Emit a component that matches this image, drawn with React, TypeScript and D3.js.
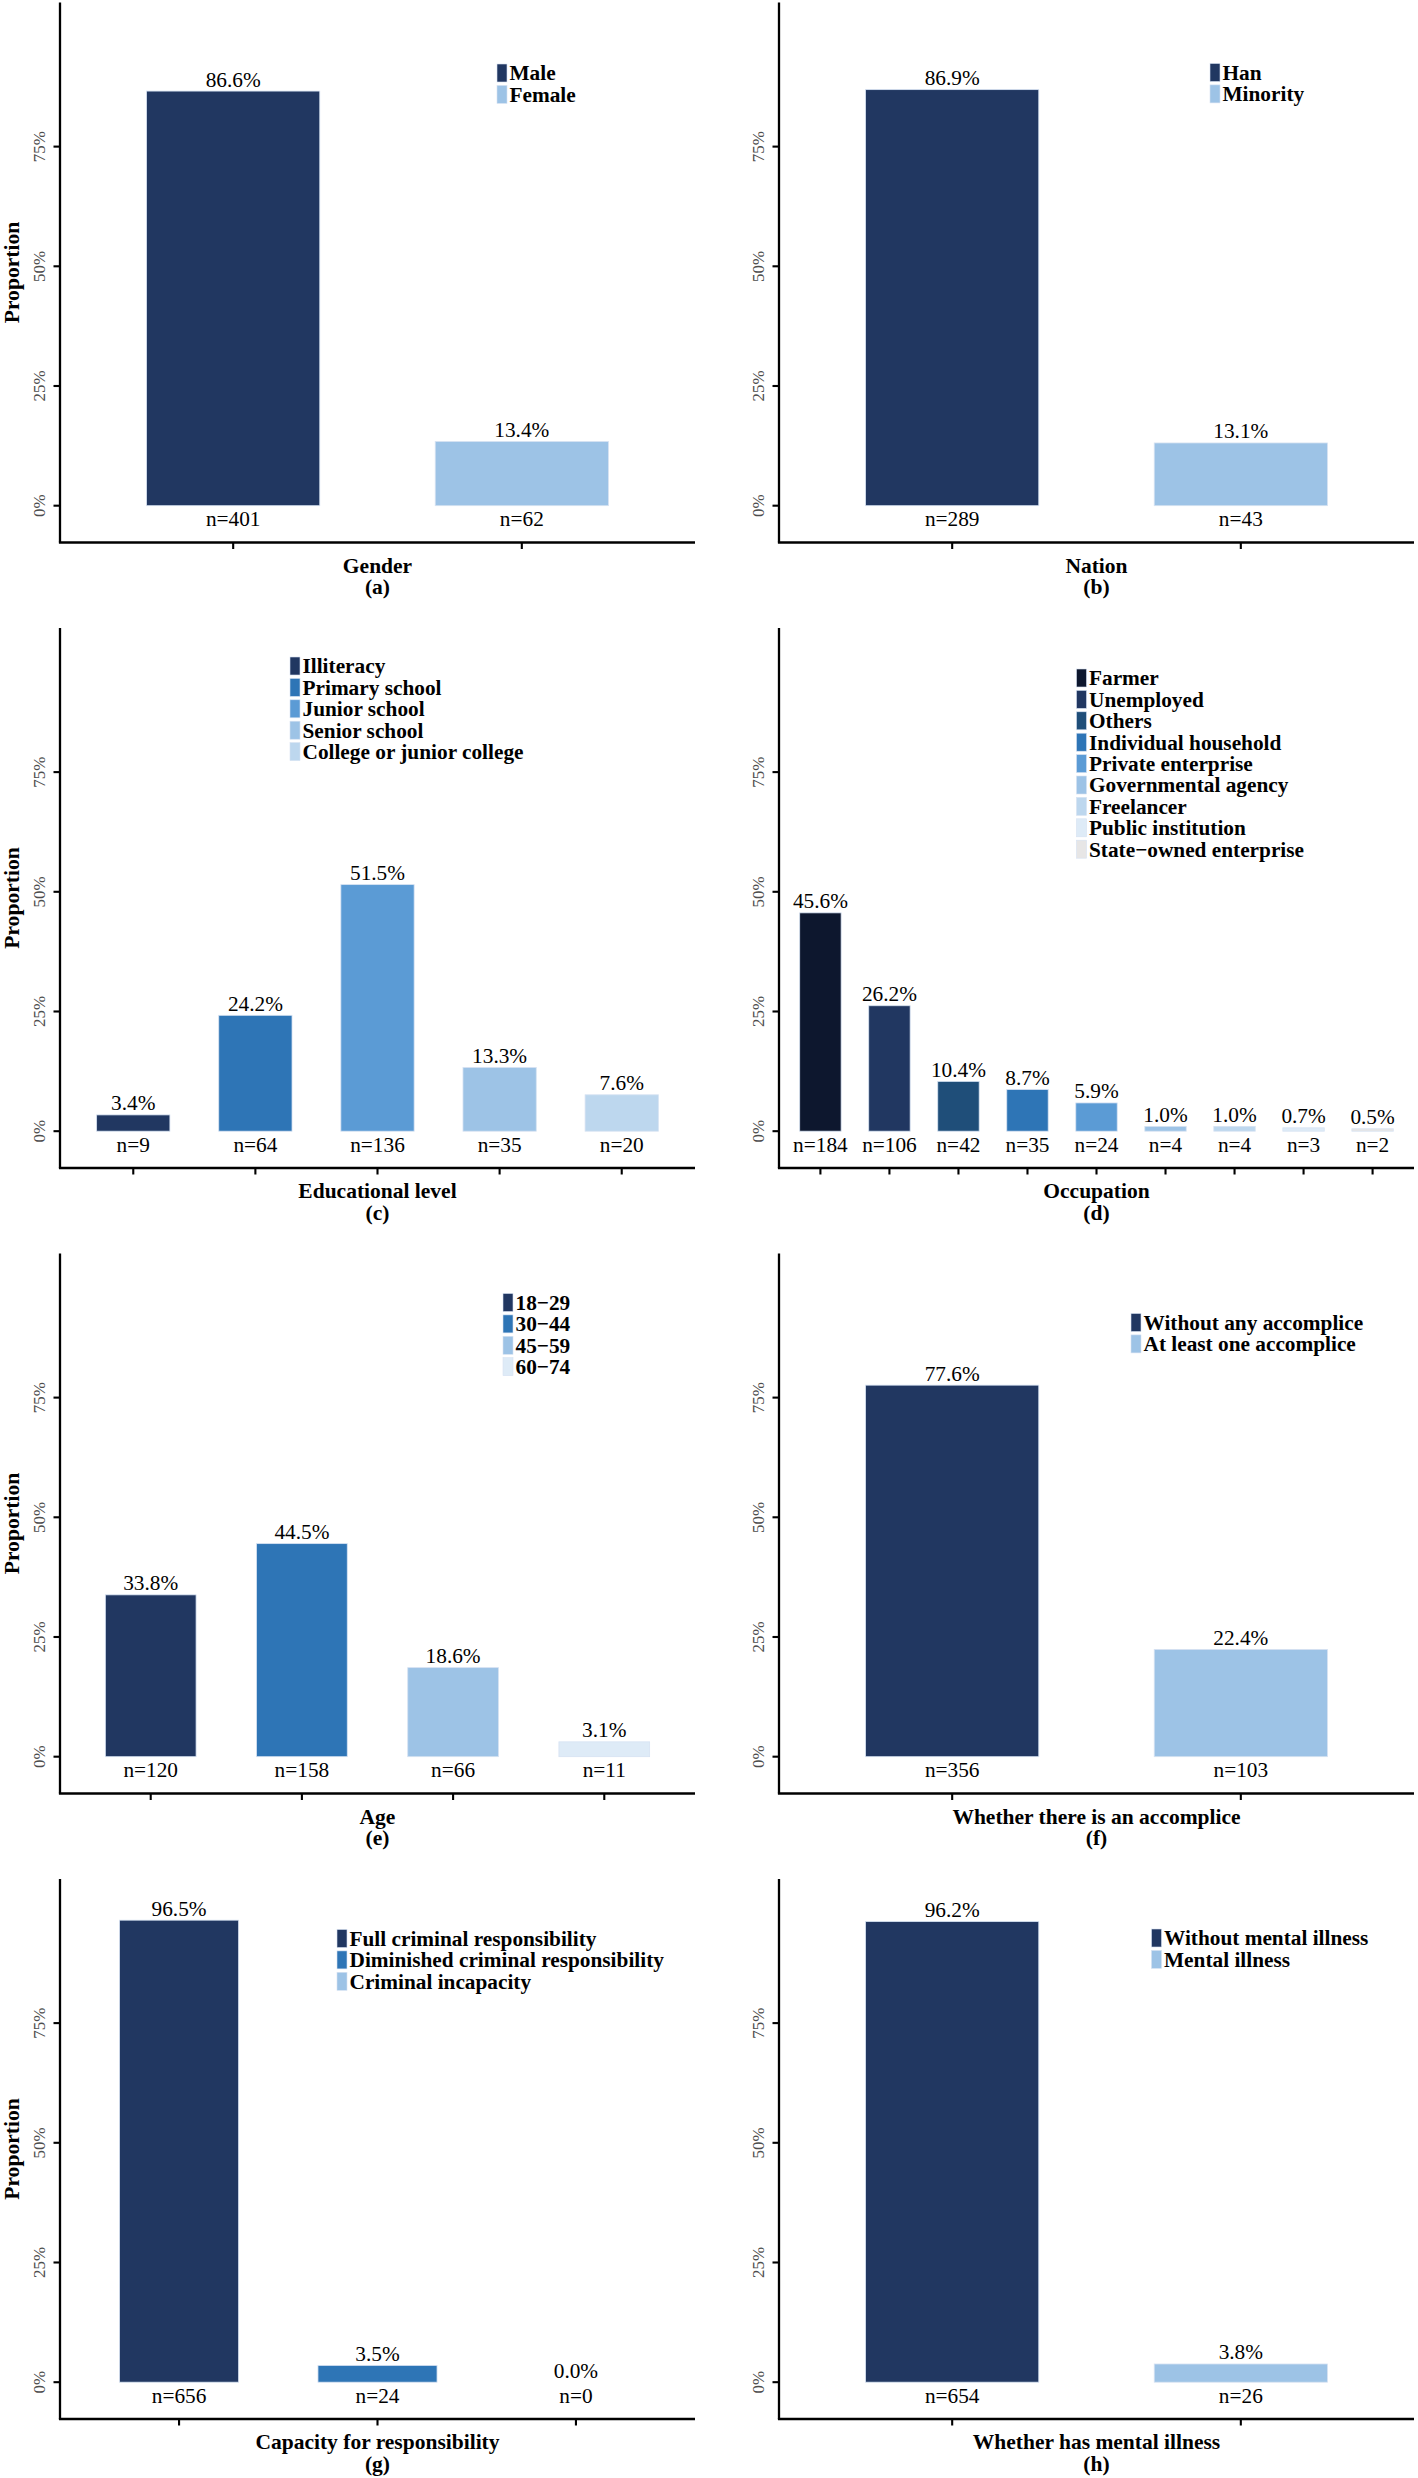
import React from "react";
import * as d3 from "d3";

// ---------- data ----------
const genderCats = ["Male", "Female"];
const genderPct = [86.6, 13.4];
const genderN = [401, 62];

const nationCats = ["Han", "Minority"];
const nationPct = [86.9, 13.1];
const nationN = [289, 43];

const eduCats = ["Illiteracy", "Primary school", "Junior school", "Senior school", "College or junior college"];
const eduPct = [3.4, 24.2, 51.5, 13.3, 7.6];
const eduN = [9, 64, 136, 35, 20];

const occCats = ["Farmer", "Unemployed", "Others", "Individual household", "Private enterprise", "Governmental agency", "Freelancer", "Public institution", "State\u2212owned enterprise"];
const occPct = [45.6, 26.2, 10.4, 8.7, 5.9, 1.0, 1.0, 0.7, 0.5];
const occN = [184, 106, 42, 35, 24, 4, 4, 3, 2];

const ageCats = ["18\u221229", "30\u221244", "45\u221259", "60\u221274"];
const agePct = [33.8, 44.5, 18.6, 3.1];
const ageN = [120, 158, 66, 11];

const accCats = ["Without any accomplice", "At least one accomplice"];
const accPct = [77.6, 22.4];
const accN = [356, 103];

const capCats = ["Full criminal responsibility", "Diminished criminal responsibility", "Criminal incapacity"];
const capPct = [96.5, 3.5, 0.0];
const capN = [656, 24, 0];

const mentalCats = ["Without mental illness", "Mental illness"];
const mentalPct = [96.2, 3.8];
const mentalN = [654, 26];

const yTicks = [0, 0.25, 0.5, 0.75];

// ---------- colours ----------
const cNavy = "#213761";
const cBlue = "#2E75B6";
const cMid = "#5B9BD5";
const cLight = "#9DC3E6";
const cPale = "#BDD7EE";
const cPaler = "#DEEBF7";

const genderColors = [cNavy, cLight];
const nationColors = [cNavy, cLight];
const eduColors = [cNavy, cBlue, cMid, cLight, cPale];
const occColors = ["#0D172E", cNavy, "#1F4E79", cBlue, cMid, cLight, cPale, cPaler, "#E7E6E6"];
const ageColors = [cNavy, cBlue, cLight, cPaler];
const accColors = [cNavy, cLight];
const capColors = [cNavy, cBlue, cLight];
const mentalColors = [cNavy, cLight];

// ---------- layout ----------
const FONT = "'Liberation Serif', 'Times New Roman', Times, serif";
const W = 1418;
const H = 2478;
const PW = 635;
const PH = 540;
const colX = [60, 779];
const rowY = [2.5, 628, 1253.5, 1879];

type Panel = {
  cats: string[];
  pct: number[];
  n: number[];
  colors: string[];
  title: string;
  caption: string;
  col: number;
  row: number;
  legend: [number, number]; // legend top-left relative to panel origin
};

const panels: Panel[] = [
  { cats: genderCats, pct: genderPct, n: genderN, colors: genderColors, title: "Gender", caption: "(a)", col: 0, row: 0, legend: [437, 61.5] },
  { cats: nationCats, pct: nationPct, n: nationN, colors: nationColors, title: "Nation", caption: "(b)", col: 1, row: 0, legend: [431, 61] },
  { cats: eduCats, pct: eduPct, n: eduN, colors: eduColors, title: "Educational level", caption: "(c)", col: 0, row: 1, legend: [230, 29] },
  { cats: occCats, pct: occPct, n: occN, colors: occColors, title: "Occupation", caption: "(d)", col: 1, row: 1, legend: [297.5, 41] },
  { cats: ageCats, pct: agePct, n: ageN, colors: ageColors, title: "Age", caption: "(e)", col: 0, row: 2, legend: [443, 40] },
  { cats: accCats, pct: accPct, n: accN, colors: accColors, title: "Whether there is an accomplice", caption: "(f)", col: 1, row: 2, legend: [352, 60] },
  { cats: capCats, pct: capPct, n: capN, colors: capColors, title: "Capacity for responsibility", caption: "(g)", col: 0, row: 3, legend: [277, 50.5] },
  { cats: mentalCats, pct: mentalPct, n: mentalN, colors: mentalColors, title: "Whether has mental illness", caption: "(h)", col: 1, row: 3, legend: [372.5, 50] },
];

const y = d3.scaleLinear().domain([-0.0769, 1.051]).range([PH, 0]);
const pctFmt = d3.format(".1f");

function PanelView({ p }: { p: Panel }) {
  const ox = colX[p.col];
  const oy = rowY[p.row];
  const x = d3
    .scaleBand<string>()
    .domain(p.cats)
    .range([0, PW])
    .paddingInner(0.4)
    .paddingOuter(0.3);
  const y0 = y(0);
  return (
    <g transform={`translate(${ox},${oy})`}>
      {/* bars */}
      {p.cats.map((c, i) => {
        const v = p.pct[i] / 100;
        const top = y(v);
        return (
          <rect
            key={c}
            x={x(c)}
            y={top}
            width={x.bandwidth()}
            height={Math.max(0, y0 - top)}
            fill={p.colors[i]}
            stroke="#d6e2f2"
            strokeWidth={0.8}
            strokeOpacity={v > 0 ? 1 : 0}
          />
        );
      })}
      {/* value labels */}
      {p.cats.map((c, i) => (
        <text
          key={"v" + c}
          x={(x(c) as number) + x.bandwidth() / 2}
          y={y(p.pct[i] / 100) - 4.5}
          textAnchor="middle"
          fontSize={21.3}
          fontFamily={FONT}
          fill="#000"
        >
          {pctFmt(p.pct[i]) + "%"}
        </text>
      ))}
      {/* n labels */}
      {p.cats.map((c, i) => (
        <text
          key={"n" + c}
          x={(x(c) as number) + x.bandwidth() / 2}
          y={y0 + 20.5}
          textAnchor="middle"
          fontSize={21.3}
          fontFamily={FONT}
          fill="#000"
        >
          {"n=" + p.n[i]}
        </text>
      ))}
      {/* axes */}
      <line x1={0} x2={0} y1={0} y2={PH} stroke="#000" strokeWidth={2.3} />
      <line x1={-1.1} x2={PW} y1={PH} y2={PH} stroke="#000" strokeWidth={2.3} />
      {yTicks.map((t) => (
        <g key={"yt" + t}>
          <line x1={-6.5} x2={0} y1={y(t)} y2={y(t)} stroke="#000" strokeWidth={2.1} />
          <text
            transform={`translate(-15,${y(t)}) rotate(-90)`}
            x={0}
            y={0}
            textAnchor="middle"
            fontSize={17}
            fontFamily={FONT}
            fill="#4D4D4D"
          >
            {Math.round(t * 100) + "%"}
          </text>
        </g>
      ))}
      {p.cats.map((c) => {
        const cx = (x(c) as number) + x.bandwidth() / 2;
        return <line key={"xt" + c} x1={cx} x2={cx} y1={PH} y2={PH + 6.5} stroke="#000" strokeWidth={2.1} />;
      })}
      {/* axis title and caption */}
      <text x={PW / 2} y={PH + 30} textAnchor="middle" fontSize={21.5} fontWeight="bold" fontFamily={FONT} fill="#000">
        {p.title}
      </text>
      <text x={PW / 2} y={PH + 51.5} textAnchor="middle" fontSize={21.5} fontWeight="bold" fontFamily={FONT} fill="#000">
        {p.caption}
      </text>
      {p.col === 0 && (
        <text
          transform={`translate(${19 - ox},${PH / 2}) rotate(-90)`}
          textAnchor="middle"
          fontSize={21.6}
          fontWeight="bold"
          fontFamily={FONT}
          fill="#000"
        >
          Proportion
        </text>
      )}
      {/* legend */}
      <g transform={`translate(${p.legend[0]},${p.legend[1]})`}>
        {p.cats.map((c, i) => (
          <g key={"lg" + c} transform={`translate(0,${i * 21.4})`}>
            <rect x={0} y={0} width={10} height={18} fill={p.colors[i]} stroke="#d6e2f2" strokeWidth={0.6} />
            <text x={12.5} y={16.3} fontSize={21.3} fontWeight="bold" fontFamily={FONT} fill="#000">
              {c}
            </text>
          </g>
        ))}
      </g>
    </g>
  );
}

export default function App() {
  return (
    <svg
      width={W}
      height={H}
      viewBox={`0 0 ${W} ${H}`}
      style={{ position: "absolute", left: 0, top: 0, display: "block", background: "#fff" }}
    >
      <rect x={0} y={0} width={W} height={H} fill="#fff" />
      {panels.map((p) => (
        <PanelView key={p.caption} p={p} />
      ))}
    </svg>
  );
}
